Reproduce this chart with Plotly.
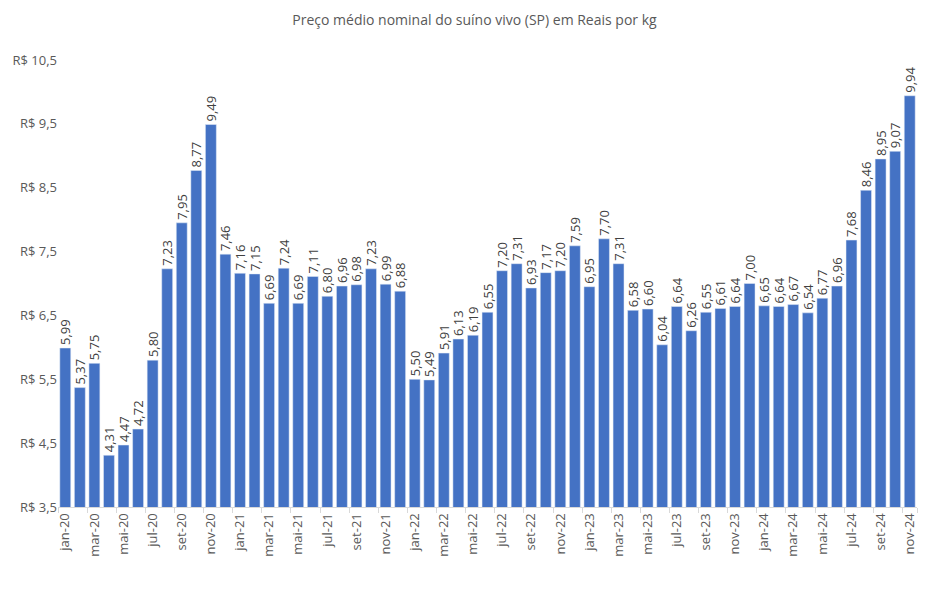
import plotly.graph_objects as go

months = ["jan", "fev", "mar", "abr", "mai", "jun", "jul", "ago", "set", "out", "nov", "dez"]
years = ["20", "21", "22", "23", "24"]
categories = [f"{m}-{y}" for y in years for m in months][:59]

prices = [
    5.99, 5.37, 5.75, 4.31, 4.47, 4.72, 5.80, 7.23, 7.95, 8.77, 9.49, 7.46,
    7.16, 7.15, 6.69, 7.24, 6.69, 7.11, 6.80, 6.96, 6.98, 7.23, 6.99, 6.88,
    5.50, 5.49, 5.91, 6.13, 6.19, 6.55, 7.20, 7.31, 6.93, 7.17, 7.20, 7.59,
    6.95, 7.70, 7.31, 6.58, 6.60, 6.04, 6.64, 6.26, 6.55, 6.61, 6.64, 7.00,
    6.65, 6.64, 6.67, 6.54, 6.77, 6.96, 7.68, 8.46, 8.95, 9.07, 9.94,
]

y_ticks = [3.5, 4.5, 5.5, 6.5, 7.5, 8.5, 9.5, 10.5]
y_ticktext = ["R$ " + f"{v:.1f}".replace(".", ",") for v in y_ticks]

idx = list(range(len(categories)))
major = idx[::2]
minor = [i - 0.5 for i in idx[::2]] + [len(categories) - 0.5]

font = "Open Sans"

fig = go.Figure(
    go.Bar(
        x=idx,
        y=prices,
        marker_color="#4472C4",
        texttemplate="%{y:.2f}",
        textposition="outside",
        textangle=-90,
        constraintext="none",
        cliponaxis=False,
        textfont=dict(family=font, size=13, color="#404040"),
        hoverinfo="skip",
    )
)

fig.update_layout(
    width=949,
    height=591,
    separators=",.",
    plot_bgcolor="white",
    paper_bgcolor="white",
    bargap=0.25,
    showlegend=False,
    margin=dict(l=56, r=32, t=60, b=84),
    title=dict(
        text="Preço médio nominal do suíno vivo (SP) em Reais por kg",
        x=0.5,
        xref="container",
        y=0.975,
        yanchor="top",
        font=dict(family=font, size=14, color="#595959"),
    ),
)

fig.update_xaxes(
    range=[-0.5, len(categories) - 0.5],
    tickmode="array",
    tickvals=major,
    ticktext=[categories[i] for i in major],
    tickangle=-90,
    ticks="",
    tickfont=dict(family=font, size=13, color="#595959"),
    showline=True,
    linecolor="#d9d9d9",
    linewidth=1,
    showgrid=False,
    zeroline=False,
    minor=dict(tickmode="array", tickvals=minor, ticks="outside", ticklen=5, tickcolor="#d9d9d9"),
)

fig.update_yaxes(
    range=[3.5, 10.5],
    tickmode="array",
    tickvals=y_ticks,
    ticktext=y_ticktext,
    tickfont=dict(family=font, size=13, color="#595959"),
    showgrid=False,
    zeroline=False,
    showline=False,
    ticks="",
)

fig.write_html("out.html")
